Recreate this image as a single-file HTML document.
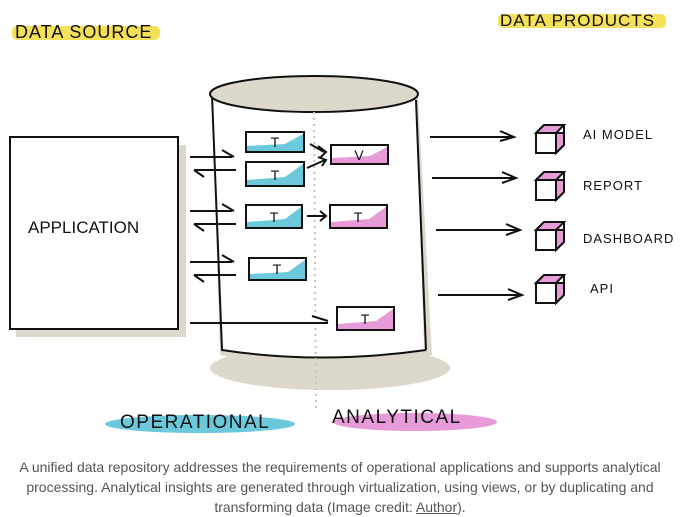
<!DOCTYPE html>
<html><head><style>
body{margin:0;background:#fff;width:680px;height:514px;overflow:hidden;font-family:"Liberation Sans",sans-serif}
.cap{position:absolute;left:0;top:457px;width:680px;text-align:center;color:#555;font-size:14px;line-height:20px}
.cap u{color:#555}
</style></head><body>
<svg width="680" height="455" style="position:absolute;left:0;top:0" font-family="Liberation Sans, sans-serif">
<rect x="12" y="26" width="148" height="14" fill="#f5e05a" rx="5"/>
<text x="15" y="38" font-size="18" fill="#111" letter-spacing="1">DATA SOURCE</text>
<rect x="498" y="14" width="168" height="14" fill="#f5e05a" rx="5"/>
<text x="500" y="26" font-size="17" fill="#111" letter-spacing="1">DATA PRODUCTS</text>
<rect x="16" y="145" width="170" height="192" fill="#ddd8cc"/>
<rect x="10" y="137" width="168" height="192" fill="#fff" stroke="#111" stroke-width="2"/>
<text x="28" y="233" font-size="17" fill="#111">APPLICATION</text>
<ellipse cx="330" cy="368" rx="120" ry="22" fill="#ddd8cc"/>
<path d="M212 95 L220 355 Q325 375 432 355 L418 95 Z" fill="#ddd8cc"/>
<path d="M212 95 L222 350 Q320 365 424 350 L416 100 Z" fill="#fff"/>
<path d="M212 95 L222 350 Q320 365 426 350" fill="none" stroke="#111" stroke-width="2"/>
<path d="M416 100 L426 350" stroke="#111" stroke-width="2"/>
<ellipse cx="314" cy="94" rx="104" ry="18" fill="#ddd8cc" stroke="#111" stroke-width="2"/>
<line x1="314" y1="112" x2="316" y2="410" stroke="#ccc6b6" stroke-width="2" stroke-dasharray="2 4"/>
<g stroke="#111" stroke-width="2" fill="none">
<path d="M190 157 H232 M222 150 L234 157"/><path d="M236 170 H194 M204 177 L194 170"/>
<path d="M190 211 H232 M222 204 L234 211"/><path d="M236 224 H194 M204 231 L194 224"/>
<path d="M190 262 H232 M222 255 L234 262"/><path d="M236 275 H194 M204 282 L194 275"/>
<path d="M190 323 H328 M312 316 L328 321"/>
<path d="M310 144 L324 152 M318 146 L326 152 L320 158"/>
<path d="M307 168 L325 160 M318 157 L326 160 L322 166"/>
<path d="M307 216 H326 M320 211 L326 216 L320 221"/>
<path d="M430 137 H512 M500 131 L514 137 L500 141"/>
<path d="M432 178 H514 M502 172 L516 178 L502 183"/>
<path d="M436 230 H518 M506 224 L520 230 L506 235"/>
<path d="M438 295 H520 M508 289 L522 295 L508 300"/>
</g>
<g stroke="#111" stroke-width="2">
<rect x="246" y="132" width="58" height="20" fill="#fff"/><path d="M247 151 L247 146 L285 144 L303 134 L303 151Z" fill="#6cc9dc" stroke="none"/>
<rect x="246" y="162" width="58" height="24" fill="#fff"/><path d="M247 185 L247 180 L285 177 L303 164 L303 185Z" fill="#6cc9dc" stroke="none"/>
<rect x="246" y="205" width="56" height="23" fill="#fff"/><path d="M247 227 L247 222 L285 219 L301 207 L301 227Z" fill="#6cc9dc" stroke="none"/>
<rect x="249" y="258" width="57" height="22" fill="#fff"/><path d="M250 279 L250 274 L288 272 L305 260 L305 279Z" fill="#6cc9dc" stroke="none"/>
<rect x="331" y="145" width="57" height="19" fill="#fff"/><path d="M332 163 L332 158 L370 156 L387 147 L387 163Z" fill="#e79bd8" stroke="none"/>
<rect x="330" y="205" width="57" height="23" fill="#fff"/><path d="M331 227 L331 222 L369 219 L386 207 L386 227Z" fill="#e79bd8" stroke="none"/>
<rect x="337" y="307" width="57" height="23" fill="#fff"/><path d="M338 329 L338 324 L376 321 L393 309 L393 329Z" fill="#e79bd8" stroke="none"/>
</g>
<g font-size="14" fill="#111" text-anchor="middle">
<text x="275" y="147">T</text><text x="275" y="180">T</text><text x="274" y="222">T</text><text x="277" y="274">T</text>
<text x="359" y="160">V</text><text x="358" y="222">T</text><text x="365" y="324">T</text>
</g>
<g stroke="#111" stroke-width="2">
<g transform="translate(536,125)"><path d="M0 8 L8 0 H28 V20 L20 28 H0Z" fill="#fff"/><path d="M0 8 L8 0 H28 L20 8Z" fill="#e79bd8"/><path d="M20 8 H28 V20 L20 28Z" fill="#e79bd8"/><path d="M0 8 H20 V28" fill="none"/></g>
<g transform="translate(536,172)"><path d="M0 8 L8 0 H28 V20 L20 28 H0Z" fill="#fff"/><path d="M0 8 L8 0 H28 L20 8Z" fill="#e79bd8"/><path d="M20 8 H28 V20 L20 28Z" fill="#e79bd8"/><path d="M0 8 H20 V28" fill="none"/></g>
<g transform="translate(536,222)"><path d="M0 8 L8 0 H28 V20 L20 28 H0Z" fill="#fff"/><path d="M0 8 L8 0 H28 L20 8Z" fill="#e79bd8"/><path d="M20 8 H28 V20 L20 28Z" fill="#e79bd8"/><path d="M0 8 H20 V28" fill="none"/></g>
<g transform="translate(536,275)"><path d="M0 8 L8 0 H28 V20 L20 28 H0Z" fill="#fff"/><path d="M0 8 L8 0 H28 L20 8Z" fill="#e79bd8"/><path d="M20 8 H28 V20 L20 28Z" fill="#e79bd8"/><path d="M0 8 H20 V28" fill="none"/></g>
</g>
<g font-size="13" fill="#111" letter-spacing="1">
<text x="583" y="139">AI MODEL</text><text x="583" y="190">REPORT</text>
<text x="583" y="243">DASHBOARD</text><text x="590" y="293">API</text>
</g>
<ellipse cx="200" cy="424" rx="95" ry="9" fill="#6cc9dc"/>
<ellipse cx="415" cy="422" rx="82" ry="9" fill="#e79bd8"/>
<text x="120" y="428" font-size="19" fill="#111" letter-spacing="1.5">OPERATIONAL</text>
<text x="332" y="423" font-size="19" fill="#111" letter-spacing="1.5">ANALYTICAL</text>
</svg>
<div class="cap">A unified data repository addresses the requirements of operational applications and supports analytical processing. Analytical insights are generated through virtualization, using views, or by duplicating and transforming data (Image credit: <u>Author</u>).</div>
</body></html>
